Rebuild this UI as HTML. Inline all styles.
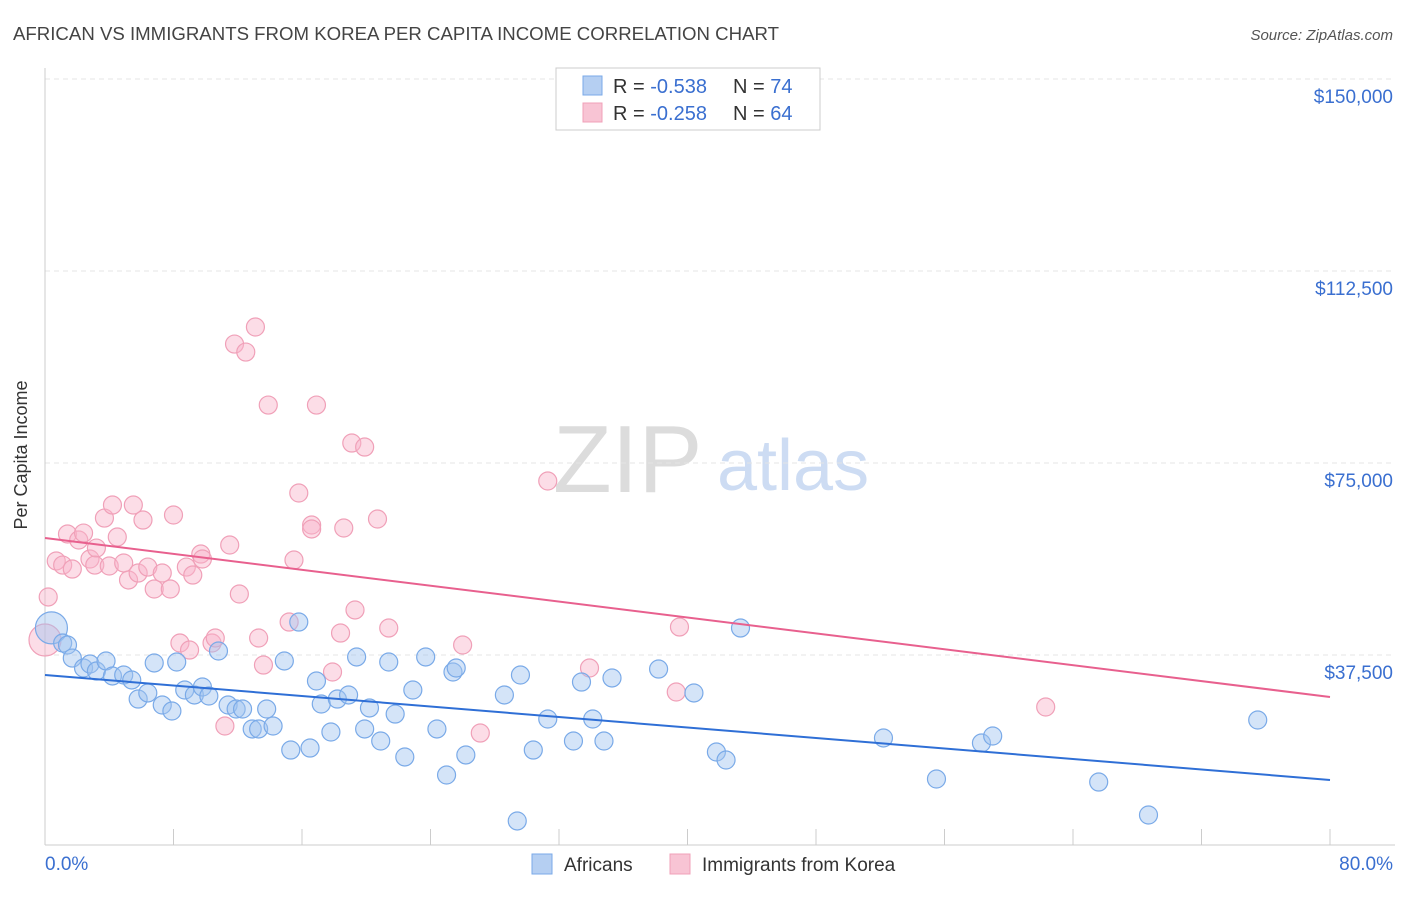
<!DOCTYPE html>
<html><head><meta charset="utf-8">
<style>
body{margin:0;background:#fff;font-family:"Liberation Sans",sans-serif;}
svg text{font-family:"Liberation Sans",sans-serif;}
</style></head>
<body>
<svg id="chart" width="1406" height="892">
<text x="13" y="40" font-size="18" fill="#444" textLength="766" lengthAdjust="spacingAndGlyphs">AFRICAN VS IMMIGRANTS FROM KOREA PER CAPITA INCOME CORRELATION CHART</text>
<text x="1393" y="40" font-size="15" fill="#555" font-style="italic" text-anchor="end">Source: ZipAtlas.com</text>
<g>
<text x="553" y="492" font-size="96" fill="#dcdcdc" font-family="Liberation Serif, serif">ZIP</text>
<text x="717" y="490" font-size="72" fill="#cddcf3">atlas</text>
</g>
<g id="grid"></g>
<g id="axes"></g>
<g id="marks"></g>
<text x="27" y="455" font-size="18" fill="#333" text-anchor="middle" transform="rotate(-90 27 455)">Per Capita Income</text>
<g>
<rect x="556" y="68" width="264" height="62" fill="#fff" stroke="#ccc"/>
<rect x="583" y="76" width="19" height="19" fill="#b5cff2" stroke="#7aaae8"/>
<text x="613" y="93" font-size="20" fill="#333">R = <tspan fill="#3a6fd0">-0.538</tspan></text>
<text x="733" y="93" font-size="20" fill="#333">N = <tspan fill="#3a6fd0">74</tspan></text>
<rect x="583" y="103" width="19" height="19" fill="#f8c4d4" stroke="#f0a0b8"/>
<text x="613" y="120" font-size="20" fill="#333">R = <tspan fill="#3a6fd0">-0.258</tspan></text>
<text x="733" y="120" font-size="20" fill="#333">N = <tspan fill="#3a6fd0">64</tspan></text>
</g>
<g>
<rect x="532" y="854" width="20" height="20" fill="#b5cff2" stroke="#7aaae8"/>
<text x="564" y="871" font-size="19" fill="#333">Africans</text>
<rect x="670" y="854" width="20" height="20" fill="#f8c4d4" stroke="#f0a0b8"/>
<text x="702" y="871" font-size="19" fill="#333">Immigrants from Korea</text>
</g>
</svg>
<script>
const yTicks=[37500,75000,112500,150000];
const yTickLabels=["$37,500","$75,000","$112,500","$150,000"];
const xTickLabels=["0.0%","80.0%"];
const africansX=[0.4,1.1,1.4,1.7,2.4,2.8,3.2,3.8,4.2,4.9,5.4,5.8,6.4,6.8,7.3,7.9,8.2,8.7,9.3,9.8,10.2,10.8,11.4,11.9,12.3,12.9,13.3,13.8,14.2,14.9,15.3,15.8,16.5,16.9,17.2,17.8,18.2,18.9,19.4,19.9,20.2,20.9,21.4,21.8,22.4,22.9,23.7,24.4,25.0,25.4,25.6,26.2,28.6,29.4,29.6,30.4,31.3,32.9,33.4,34.1,34.8,35.3,38.2,40.4,41.8,42.4,43.3,52.2,55.5,58.3,59.0,65.6,68.7,75.5];
const africansY=[42800,39840,39450,36900,34960,35740,34370,36330,33400,33590,32620,28900,30080,35940,27730,26560,36130,30660,29690,31250,29490,38280,27730,26950,26950,23050,23050,26950,23630,36330,18940,43940,19330,32420,27930,22460,28900,29690,37110,23050,27150,20700,36130,25970,17580,30660,37110,23050,14060,34180,34960,17970,29690,5080,33590,18940,25000,20700,32220,25000,20700,33010,34760,30080,18550,16990,42770,21290,13280,20310,21680,12690,6250,24800];
const koreaX=[0,0.2,0.7,1.1,1.4,1.7,2.1,2.4,2.8,3.2,3.1,3.7,4.2,4.0,4.5,4.9,5.2,5.5,5.8,6.1,6.4,6.8,7.3,7.8,8.0,8.4,8.8,9.0,9.2,9.7,9.8,10.4,10.6,11.2,11.5,11.8,12.1,12.5,13.1,13.3,13.6,13.9,15.2,15.5,15.8,16.6,16.6,16.9,17.9,18.4,18.6,19.1,19.3,19.9,20.7,21.4,26.0,27.1,31.3,33.9,39.3,39.5,62.3];
const koreaY=[40430,48830,55860,55070,61130,54290,59960,61320,56250,58390,55070,64250,66790,54880,60540,55470,52150,66790,53510,63860,54680,50390,53510,50390,64840,39840,54680,38470,53120,57220,56250,39840,40820,23630,58980,98230,49410,96670,101560,40820,35540,86320,43940,56050,69140,62890,62110,86320,34180,41790,62300,78900,46290,78120,64060,42770,39450,22260,71480,34960,30270,42970,27340];
const africansTrend=[33590,13090];
const koreaTrend=[60350,29300];
const trendX=[0,80];

const NS="http://www.w3.org/2000/svg";
const X0=45,X1=1330,Y0=847,YPER=192/37500;
function xs(v){return X0+(X1-X0)*v/80;}
function ys(v){return Y0-v*YPER;}
function mk(tag,attrs,parent){const e=document.createElementNS(NS,tag);for(const k in attrs)e.setAttribute(k,attrs[k]);parent.appendChild(e);return e;}
const grid=document.getElementById('grid'),axes=document.getElementById('axes'),marks=document.getElementById('marks');
yTicks.forEach((t,i)=>{
 const l=mk('line',{x1:45,x2:1395,y1:ys(t),y2:ys(t),stroke:'#e4e4e4','stroke-dasharray':'5,4'},grid);
 
 
 const tx=mk('text',{x:1393,y:ys(t)+24,'font-size':19,fill:'#3a6fd0','text-anchor':'end'},axes);
 tx.textContent=yTickLabels[i];
 
 
});
const ya=mk('line',{x1:45,x2:45,y1:68,y2:845,stroke:'#ccc'},axes);


const xa=mk('line',{x1:45,x2:1395,y1:845,y2:845,stroke:'#ccc'},axes);


for(let i=0;i<=10;i++){
 const t=mk('line',{x1:xs(i*8),x2:xs(i*8),y1:829,y2:845,stroke:'#ccc'},axes);
 
 
}
const xl0=mk('text',{x:45,y:870,'font-size':19,fill:'#3a6fd0'},axes);
xl0.textContent=xTickLabels[0];


const xl1=mk('text',{x:1393,y:870,'font-size':19,fill:'#3a6fd0','text-anchor':'end'},axes);
xl1.textContent=xTickLabels[1];



function dots(X,Y,fill,stroke,name){
 X.forEach((x,i)=>{
  const r=i===0?16:9;
  const c=mk('circle',{cx:xs(x),cy:ys(Y[i]),r:r,fill:fill,stroke:stroke,'stroke-width':1.2},marks);
  
  
 });
}
dots(koreaX,koreaY,'rgba(248,180,202,0.45)','#f0a0b8','korea-point');
dots(africansX,africansY,'rgba(160,196,240,0.45)','#7aaae8','africans-point');
const tb=mk('line',{x1:xs(trendX[0]),x2:xs(trendX[1]),y1:ys(africansTrend[0]),y2:ys(africansTrend[1]),stroke:'#2f6fd6','stroke-width':2},marks);


const tp=mk('line',{x1:xs(trendX[0]),x2:xs(trendX[1]),y1:ys(koreaTrend[0]),y2:ys(koreaTrend[1]),stroke:'#e8608e','stroke-width':2},marks);


</script>
</body></html>
